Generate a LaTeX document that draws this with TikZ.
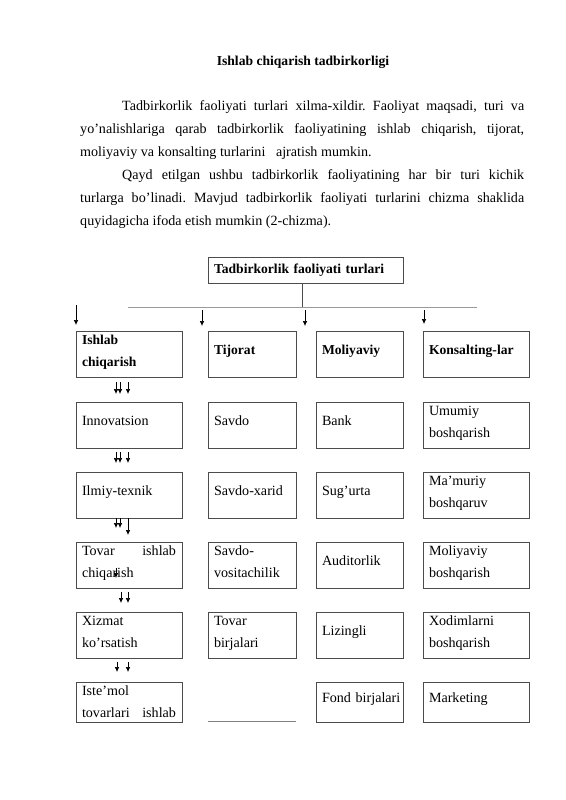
\documentclass[tikz,border=0pt]{standalone}
\usepackage{fontspec}
\setmainfont{Liberation Serif}
\usetikzlibrary{arrows.meta,calc}
\frenchspacing
\begin{document}
\begin{tikzpicture}[x=1pt,y=-1pt,
  rm/.style={font=\fontsize{14.1}{22.5}\selectfont},
  bf/.style={font=\fontsize{13.6}{22.5}\selectfont\bfseries},
  box/.style={rm, draw=black!70, line width=0.8pt, inner xsep=6pt, inner ysep=0pt, align=left, minimum height=46pt},
  one/.style={text height=8pt, text depth=8pt},
  two/.style={text height=8pt, text depth=28pt},
  wa/.style={text width=94pt, minimum width=106pt},
  wb/.style={text width=76pt, minimum width=88pt},
  wc/.style={text width=75pt, minimum width=87pt},
  txt/.style={rm, anchor=base west, inner sep=0pt},
  arr/.style={line width=0.7pt, -{Latex[length=5pt,width=4.6pt]}},
  ]
\fill[white] (0,0) rectangle (565,800);
\useasboundingbox (0,0) rectangle (565,800);

% title and text
\node[bf, anchor=base, inner sep=0pt] (title) at (303,66) {Ishlab chiqarish tadbirkorligi};
\node[txt] (p1) at (122,110) {\makebox[402pt][s]{Tadbirkorlik faoliyati turlari xilma-xildir. Faoliyat maqsadi, turi va}};
\node[txt] (p2) at (80,133) {\makebox[444pt][s]{yo’nalishlariga qarab tadbirkorlik faoliyatining ishlab chiqarish, tijorat,}};
\node[txt] (p3) at (80,156) {moliyaviy va konsalting turlarini\ \ \ ajratish mumkin.};
\node[txt] (p4) at (122,179) {\makebox[402pt][s]{Qayd etilgan ushbu tadbirkorlik faoliyatining har bir turi kichik}};
\node[txt] (p5) at (80,202) {\makebox[444pt][s]{turlarga bo’linadi. Mavjud tadbirkorlik faoliyati turlarini chizma shaklida}};
\node[txt] (p6) at (80,225) {quyidagicha ifoda etish mumkin (2-chizma).};

% top box
\node[box, bf, text width=183pt, minimum width=195pt, minimum height=26pt, text height=9.5pt, text depth=3.5pt] (t0) at (305.5,270) {Tadbirkorlik faoliyati turlari};
\coordinate (j) at (302,307);
\coordinate (hl) at (128,307);
\coordinate (hr) at (477,307);
\draw[black!70, line width=0.8pt] (j |- t0.south) -- (j);
\draw[black!40, line width=0.9pt] (hl) -- (hr);

% top arrows
\foreach \x/\ys/\ye [count=\i] in {76/305/325, 202/310/326, 305/310/326, 424/310/324} {
  \coordinate (ta\i s) at (\x,\ys);
  \coordinate (ta\i e) at (\x,\ye);
  \draw[arr] (ta\i s) -- (ta\i e);
}

% row 1
\node[box, bf, wa, two] (r1c1) at (129,354) {Ishlab\\chiqarish};
\node[box, bf, wb, one] (r1c2) at (252,354) {Tijorat};
\node[box, bf, wc, one] (r1c3) at (359.5,354) {Moliyaviy};
\node[box, bf, wa, one] (r1c4) at (476,354) {Konsalting-lar};

% row 2
\node[box, wa, one] (r2c1) at (129,425) {Innovatsion};
\node[box, wb, one] (r2c2) at (252,425) {Savdo};
\node[box, wc, one] (r2c3) at (359.5,425) {Bank};
\node[box, wa, two] (r2c4) at (476,425) {Umumiy\\boshqarish};

% row 3
\node[box, wa, one] (r3c1) at (129,495) {Ilmiy-texnik};
\node[box, wb, one] (r3c2) at (252,495) {Savdo-xarid};
\node[box, wc, one] (r3c3) at (359.5,495) {Sug’urta};
\node[box, wa, two] (r3c4) at (476,495) {Ma’muriy\\boshqaruv};

% row 4
\node[box, wa, two] (r4c1) at (129,565) {\hbox to 94pt{Tovar\hfill ishlab}\\chiqarish};
\node[box, wb, two] (r4c2) at (252,565) {Savdo-\\vositachilik};
\node[box, wc, one] (r4c3) at (359.5,565) {Auditorlik};
\node[box, wa, two] (r4c4) at (476,565) {Moliyaviy\\boshqarish};

% row 5
\node[box, wa, two] (r5c1) at (129,635) {Xizmat\\ko’rsatish};
\node[box, wb, two] (r5c2) at (252,635) {Tovar\\birjalari};
\node[box, wc, one] (r5c3) at (359.5,635) {Lizingli};
\node[box, wa, two] (r5c4) at (476,635) {Xodimlarni\\boshqarish};

% row 6
\node[box, wa, minimum height=40pt, text height=8pt, text depth=22pt] (r6c1) at (129,702) {Iste’mol\\\hbox to 94pt{tovarlari\hfill ishlab}};
\node[box, wc, one, minimum height=40pt] (r6c3) at (359.5,702) {\mbox{Fond birjalari}};
\node[box, wa, one, minimum height=40pt] (r6c4) at (476,702) {Marketing};
\coordinate (bl1) at (208,721);
\coordinate (bl2) at (296,721);
\draw[black!50, line width=0.8pt] (bl1) -- (bl2);

% column 1 arrows
\foreach \x/\ys/\ye [count=\i] in {116/382/394, 120/382/394, 128/382/394,
  116/452/463, 120/452/463, 128/452/463,
  116/518/528, 120/518/528, 128/518/535,
  116/568/578,
  121/592/603, 128/592/603,
  117/662/672, 128/662/672} {
  \coordinate (ca\i s) at (\x,\ys);
  \coordinate (ca\i e) at (\x,\ye);
  \draw[arr] (ca\i s) -- (ca\i e);
}
\end{tikzpicture}
\end{document}
